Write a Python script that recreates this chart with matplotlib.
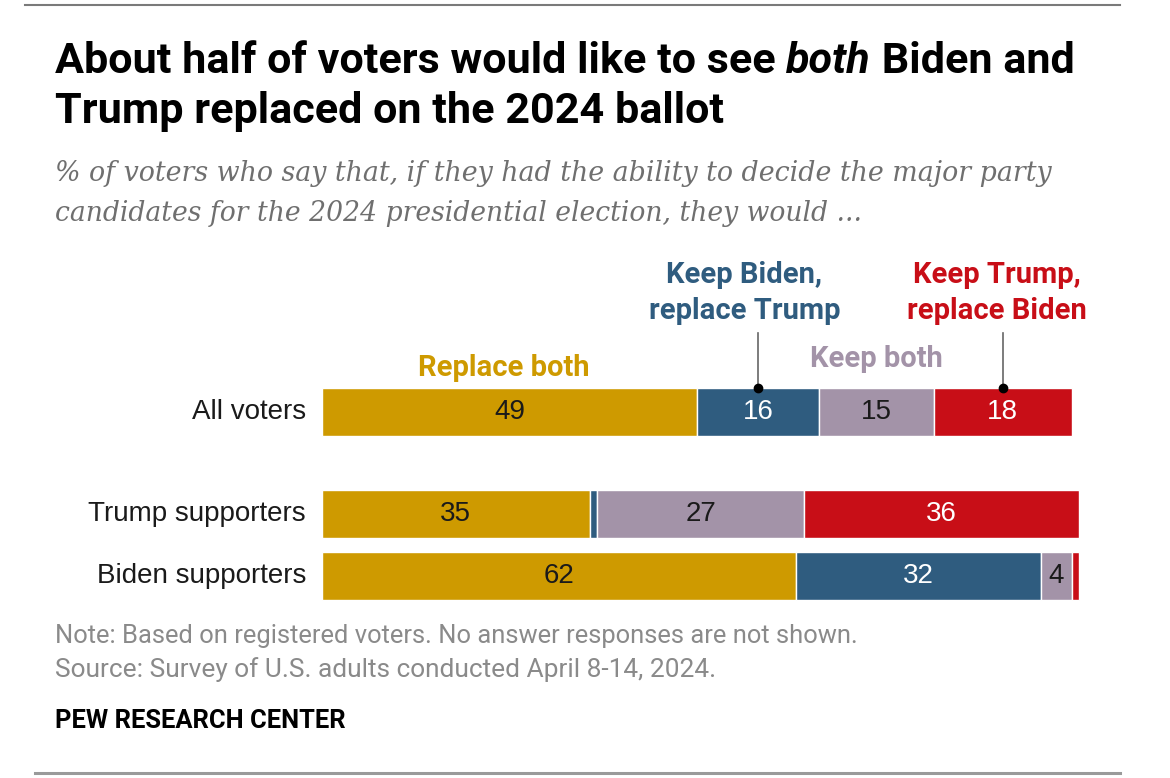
import matplotlib
matplotlib.use("Agg")
import matplotlib.pyplot as plt
import matplotlib.transforms as mtransforms
from matplotlib.lines import Line2D
from matplotlib import font_manager

# ---------------- data ----------------
groups = ["All voters", "Trump supporters", "Biden supporters"]
series = ["Replace both", "Keep Biden, replace Trump", "Keep both", "Keep Trump, replace Biden"]
replace_both = [49, 35, 62]
keep_biden = [16, 1, 32]
keep_both = [15, 27, 4]
keep_trump = [18, 36, 1]
show_label = [[True, True, True], [True, False, True], [True, True, True], [True, True, False]]

colors = ["#CE9A00", "#2F5C7F", "#A393A8", "#C80E17"]
label_colors = ["#1a1a1a", "white", "#1a1a1a", "white"]

W, H = 1170, 778
fig = plt.figure(figsize=(W / 100, H / 100), dpi=100)
fig.patch.set_facecolor("white")

avail = {f.name for f in font_manager.fontManager.ttflist}
narrow = "Liberation Sans Narrow" if "Liberation Sans Narrow" in avail else "Roboto"
sans = "Liberation Sans"
serif = "DejaVu Serif"

def fx(px):
    return px / W

def fy(py):
    return 1 - py / H

renderer = fig.canvas.get_renderer()

def fit_runs(x_px, y_px, runs, target_w, size0=20, **common):
    """Place a sequence of text runs on a baseline; scale to target width."""
    texts = []
    for s, kw in runs:
        t = fig.text(fx(x_px), fy(y_px), s, fontsize=size0, va="baseline", ha="left", **common, **kw)
        texts.append(t)
    def total():
        return sum(t.get_window_extent(renderer).width for t in texts)
    for _ in range(2):
        tw = total()
        for t in texts:
            t.set_fontsize(t.get_fontsize() * target_w / tw)
    x = x_px
    for t in texts:
        t.set_position((fx(x), fy(y_px)))
        x += t.get_window_extent(renderer).width
    return texts

# ---------------- rules ----------------
fig.add_artist(Line2D([fx(25), fx(1120)], [fy(5), fy(5)], color="#7a7a7a", lw=1.5))
fig.add_artist(Line2D([fx(35), fx(1120)], [fy(773), fy(773)], color="#9a9a9a", lw=2.2))

# ---------------- title ----------------
fit_runs(55, 73, [("About half of voters would like to see ", dict(fontweight="bold")),
                  ("both", dict(fontweight="bold", fontstyle="italic")),
                  (" Biden and", dict(fontweight="bold"))], 1020, family=narrow, color="black")
fit_runs(55, 123, [("Trump replaced on the 2024 ballot", dict(fontweight="bold"))], 670,
         family=narrow, color="black")

# subtitle
fit_runs(55, 181, [("% of voters who say that, if they had the ability to decide the major party", dict(fontstyle="italic"))],
         997, family=serif, color="#6f6f6f")
fit_runs(55, 221, [("candidates for the 2024 presidential election, they would ...", dict(fontstyle="italic"))],
         808, family=serif, color="#6f6f6f")

# ---------------- bars ----------------
ax = fig.add_axes([fx(322), fy(606), 765 / W, (606 - 380) / H])
ypos = [0, 1.645, 2.645]
height = 0.79
vals = [replace_both, keep_biden, keep_both, keep_trump]
lefts = [0, 0, 0]
seg_centers = []
for si, v in enumerate(vals):
    ax.barh(ypos, v, left=lefts, height=height, color=colors[si], edgecolor="white", linewidth=1)
    centers = []
    for gi in range(3):
        c = lefts[gi] + v[gi] / 2
        centers.append(c)
        if show_label[si][gi]:
            ax.text(c, ypos[gi], str(v[gi]), ha="center", va="center", fontsize=20,
                    color=label_colors[si], family=sans)
    seg_centers.append(centers)
    lefts = [lefts[i] + v[i] for i in range(3)]

ax.set_xlim(0, 100)
ax.set_ylim((606 - 412) / 62, -(412 - 380) / 62)
ax.axis("off")

# row labels
for gi, g in enumerate(groups):
    ax.text(-2.1, ypos[gi], g, ha="right", va="center", fontsize=20, color="#1a1a1a", family=sans)

# series labels above the "All voters" bar
bt = mtransforms.blended_transform_factory(ax.transData, fig.transFigure)
lab_font = dict(family=narrow, fontweight="bold", fontsize=21, ha="center", va="center", transform=bt)
ax.text(seg_centers[0][0] - 0.8, fy(368), "Replace both", color=colors[0], **lab_font)
ax.text(seg_centers[2][0], fy(359), "Keep both", color=colors[2], **lab_font)
ax.text(seg_centers[1][0] - 1.8, fy(275), "Keep Biden,", color=colors[1], **lab_font)
ax.text(seg_centers[1][0] - 1.8, fy(311), "replace Trump", color=colors[1], **lab_font)
ax.text(seg_centers[3][0] - 0.8, fy(275), "Keep Trump,", color=colors[3], **lab_font)
ax.text(seg_centers[3][0] - 0.8, fy(311), "replace Biden", color=colors[3], **lab_font)

# leader lines with dots
for si in (1, 3):
    xc = seg_centers[si][0]
    ax.add_artist(Line2D([xc, xc], [fy(333), fy(388)], transform=bt, color="#666666", lw=1.2,
                         clip_on=False))
    ax.add_artist(Line2D([xc], [fy(388)], transform=bt, marker="o", markersize=6,
                         color="black", linestyle="none", clip_on=False, zorder=5))

# ---------------- notes ----------------
fit_runs(55, 643, [("Note: Based on registered voters. No answer responses are not shown.", {})], 807,
         family=narrow, color="#8a8a8a")
fit_runs(55, 677, [("Source: Survey of U.S. adults conducted April 8-14, 2024.", {})], 660,
         family=narrow, color="#8a8a8a")
fit_runs(55, 728, [("PEW RESEARCH CENTER", dict(fontweight="bold"))], 290,
         family=narrow, color="black")

fig.savefig("out.png", dpi=100, facecolor="white")
